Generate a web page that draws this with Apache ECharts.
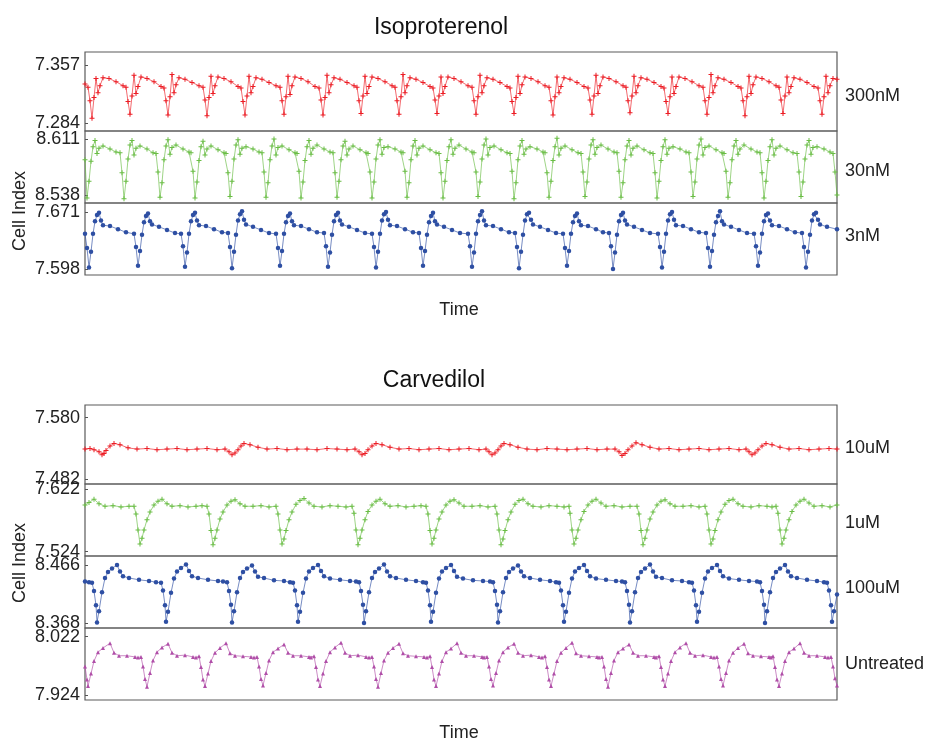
<!DOCTYPE html>
<html>
<head>
<meta charset="utf-8">
<script src="https://cdn.jsdelivr.net/npm/echarts@6/dist/echarts.min.js"></script>
<style>html,body{margin:0;padding:0;background:#fff}#c{width:929px;height:740px}</style>
</head>
<body>
<div id="c"></div>
<script>
// ---- data: [time, cell index] ----
const iso300 = [[0,7.333],[3,7.329],[5,7.312],[7,7.290],[9,7.316],[11,7.340],[13,7.322],[15,7.331],[18,7.341],[24,7.340],[31,7.336],[38,7.331],
[41,7.329],[43,7.311],[45,7.295],[47,7.318],[49,7.344],[51,7.321],[53,7.330],[56,7.342],[62,7.340],[69,7.336],[76,7.330],
[79,7.328],[81,7.312],[83,7.294],[85,7.317],[87,7.345],[89,7.322],[91,7.332],[94,7.341],[100,7.339],[107,7.335],[114,7.331],
[118,7.329],[120,7.313],[122,7.293],[124,7.316],[126,7.343],[128,7.321],[130,7.331],[133,7.342],[139,7.340],[146,7.336],[153,7.330],
[156,7.328],[158,7.311],[160,7.294],[162,7.318],[164,7.343],[166,7.322],[168,7.330],[171,7.341],[177,7.339],[184,7.335],[191,7.331],
[195,7.329],[197,7.312],[199,7.295],[201,7.317],[203,7.343],[205,7.320],[207,7.331],[210,7.342],[216,7.340],[223,7.336],[230,7.330],
[234,7.328],[236,7.313],[238,7.294],[240,7.316],[242,7.344],[244,7.322],[246,7.332],[249,7.341],[255,7.339],[262,7.335],[269,7.331],
[272,7.329],[274,7.312],[276,7.296],[278,7.318],[280,7.343],[282,7.321],[284,7.330],[287,7.342],[293,7.340],[300,7.336],[307,7.331],
[310,7.329],[312,7.312],[314,7.295],[316,7.317],[318,7.345],[320,7.322],[322,7.331],[325,7.341],[331,7.339],[338,7.335],[345,7.330],
[348,7.328],[350,7.313],[352,7.296],[354,7.318],[356,7.342],[358,7.321],[360,7.330],[363,7.342],[369,7.340],[376,7.336],[383,7.331],
[387,7.329],[389,7.312],[391,7.295],[393,7.317],[395,7.344],[397,7.322],[399,7.331],[402,7.341],[408,7.339],[415,7.335],[422,7.330],
[425,7.328],[427,7.311],[429,7.296],[431,7.316],[433,7.343],[435,7.321],[437,7.332],[440,7.342],[446,7.340],[453,7.336],[460,7.331],
[464,7.329],[466,7.312],[468,7.294],[470,7.317],[472,7.342],[474,7.322],[476,7.330],[479,7.341],[485,7.339],[492,7.335],[499,7.330],
[503,7.328],[505,7.313],[507,7.295],[509,7.318],[511,7.344],[513,7.321],[515,7.331],[518,7.342],[524,7.340],[531,7.336],[538,7.331],
[541,7.329],[543,7.312],[545,7.297],[547,7.318],[549,7.343],[551,7.322],[553,7.331],[556,7.341],[562,7.339],[569,7.335],[576,7.330],
[579,7.328],[581,7.311],[583,7.296],[585,7.317],[587,7.342],[589,7.321],[591,7.330],[594,7.342],[600,7.340],[607,7.336],[614,7.331],
[618,7.329],[620,7.312],[622,7.295],[624,7.316],[626,7.345],[628,7.322],[630,7.331],[633,7.341],[639,7.339],[646,7.335],[653,7.330],
[656,7.328],[658,7.312],[660,7.293],[662,7.317],[664,7.343],[666,7.321],[668,7.332],[671,7.342],[677,7.340],[684,7.336],[691,7.331],
[694,7.329],[696,7.313],[698,7.296],[700,7.318],[702,7.342],[704,7.322],[706,7.330],[709,7.341],[715,7.339],[722,7.335],[729,7.330],
[733,7.328],[735,7.312],[737,7.295],[739,7.317],[741,7.343],[743,7.322],[745,7.331],[748,7.340],[752,7.339]];

const iso30 = [[0,8.584],[2,8.534],[4,8.556],[6,8.582],[8,8.601],[10,8.609],[12,8.592],[14,8.599],[18,8.602],[25,8.598],[31,8.594],
[35,8.593],[37,8.567],[39,8.533],[41,8.556],[43,8.585],[45,8.603],[47,8.609],[49,8.590],[51,8.599],[55,8.602],[62,8.598],[68,8.593],
[71,8.592],[73,8.568],[75,8.535],[77,8.554],[79,8.584],[81,8.602],[83,8.610],[85,8.591],[87,8.600],[91,8.603],[98,8.598],[104,8.594],
[106,8.593],[108,8.569],[110,8.534],[112,8.555],[114,8.583],[116,8.601],[118,8.608],[120,8.590],[122,8.598],[126,8.602],[133,8.597],[139,8.593],
[141,8.592],[143,8.567],[145,8.536],[147,8.556],[149,8.585],[151,8.603],[153,8.610],[155,8.591],[157,8.599],[161,8.601],[168,8.598],[174,8.594],
[177,8.593],[179,8.568],[181,8.535],[183,8.554],[185,8.584],[187,8.602],[189,8.611],[191,8.590],[193,8.600],[197,8.602],[204,8.597],[210,8.593],
[212,8.592],[214,8.569],[216,8.534],[218,8.555],[220,8.583],[222,8.601],[224,8.609],[226,8.591],[228,8.599],[232,8.603],[239,8.598],[245,8.594],
[248,8.593],[250,8.567],[252,8.535],[254,8.556],[256,8.584],[258,8.602],[260,8.608],[262,8.590],[264,8.598],[268,8.602],[275,8.597],[281,8.593],
[283,8.592],[285,8.568],[287,8.534],[289,8.555],[291,8.585],[293,8.603],[295,8.610],[297,8.591],[299,8.600],[303,8.601],[310,8.598],[316,8.594],
[318,8.593],[320,8.569],[322,8.535],[324,8.554],[326,8.584],[328,8.602],[330,8.609],[332,8.590],[334,8.599],[338,8.602],[345,8.597],[351,8.593],
[354,8.592],[356,8.567],[358,8.534],[360,8.556],[362,8.583],[364,8.601],[366,8.610],[368,8.591],[370,8.599],[374,8.603],[381,8.598],[387,8.594],
[389,8.593],[391,8.568],[393,8.536],[395,8.555],[397,8.585],[399,8.603],[401,8.611],[403,8.590],[405,8.600],[409,8.602],[416,8.597],[422,8.593],
[425,8.592],[427,8.569],[429,8.533],[431,8.554],[433,8.584],[435,8.602],[437,8.609],[439,8.591],[441,8.598],[445,8.601],[452,8.598],[458,8.594],
[460,8.593],[462,8.567],[464,8.535],[466,8.556],[468,8.583],[470,8.601],[472,8.612],[474,8.590],[476,8.599],[480,8.602],[487,8.597],[493,8.593],
[496,8.592],[498,8.568],[500,8.536],[502,8.555],[504,8.585],[506,8.603],[508,8.610],[510,8.591],[512,8.600],[516,8.603],[523,8.598],[529,8.594],
[532,8.593],[534,8.569],[536,8.535],[538,8.554],[540,8.584],[542,8.602],[544,8.609],[546,8.590],[548,8.599],[552,8.602],[559,8.597],[565,8.593],
[568,8.592],[570,8.567],[572,8.534],[574,8.556],[576,8.583],[578,8.601],[580,8.610],[582,8.591],[584,8.599],[588,8.601],[595,8.598],[601,8.594],
[604,8.593],[606,8.568],[608,8.536],[610,8.555],[612,8.585],[614,8.603],[616,8.611],[618,8.590],[620,8.600],[624,8.602],[631,8.597],[637,8.593],
[639,8.592],[641,8.569],[643,8.535],[645,8.554],[647,8.584],[649,8.602],[651,8.609],[653,8.591],[655,8.598],[659,8.603],[666,8.598],[672,8.594],
[675,8.593],[677,8.567],[679,8.534],[681,8.556],[683,8.583],[685,8.601],[687,8.610],[689,8.590],[691,8.599],[695,8.602],[702,8.597],[708,8.593],
[712,8.592],[714,8.568],[716,8.536],[718,8.555],[720,8.585],[722,8.603],[724,8.609],[726,8.591],[728,8.600],[732,8.601],[739,8.598],[745,8.594],
[748,8.592],[750,8.568],[752,8.538]];

const iso3 = [[0,7.643],[2,7.625],[4,7.600],[6,7.620],[8,7.643],[10,7.659],[12,7.667],[14,7.670],[16,7.660],[18,7.654],[25,7.653],[33,7.649],[41,7.645],
[49,7.643],[51,7.626],[53,7.602],[55,7.621],[57,7.642],[59,7.658],[61,7.666],[63,7.669],[65,7.659],[67,7.655],[74,7.652],[82,7.648],[90,7.644],
[96,7.643],[98,7.627],[100,7.601],[102,7.619],[104,7.643],[106,7.659],[108,7.667],[110,7.670],[112,7.660],[114,7.654],[121,7.653],[129,7.649],[137,7.645],
[143,7.644],[145,7.626],[147,7.599],[149,7.620],[151,7.642],[153,7.660],[155,7.668],[157,7.672],[159,7.661],[161,7.655],[168,7.652],[176,7.648],[184,7.644],
[191,7.643],[193,7.625],[195,7.602],[197,7.621],[199,7.643],[201,7.658],[203,7.666],[205,7.669],[207,7.659],[209,7.654],[216,7.653],[224,7.649],[232,7.645],
[239,7.644],[241,7.627],[243,7.601],[245,7.619],[247,7.642],[249,7.659],[251,7.667],[253,7.670],[255,7.660],[257,7.655],[264,7.652],[272,7.648],[280,7.644],
[287,7.643],[289,7.626],[291,7.600],[293,7.620],[295,7.643],[297,7.660],[299,7.668],[301,7.671],[303,7.661],[305,7.654],[312,7.653],[320,7.649],[328,7.645],
[334,7.644],[336,7.625],[338,7.602],[340,7.621],[342,7.642],[344,7.658],[346,7.666],[348,7.670],[350,7.659],[352,7.655],[359,7.652],[367,7.648],[375,7.644],
[383,7.643],[385,7.627],[387,7.601],[389,7.619],[391,7.643],[393,7.659],[395,7.667],[397,7.672],[399,7.660],[401,7.654],[408,7.653],[416,7.649],[424,7.645],
[430,7.644],[432,7.626],[434,7.599],[436,7.620],[438,7.642],[440,7.660],[442,7.668],[444,7.670],[446,7.661],[448,7.655],[455,7.652],[463,7.648],[471,7.644],
[478,7.643],[480,7.625],[482,7.602],[484,7.621],[486,7.643],[488,7.658],[490,7.666],[492,7.669],[494,7.659],[496,7.654],[503,7.653],[511,7.649],[518,7.645],
[524,7.644],[526,7.627],[528,7.598],[530,7.619],[532,7.642],[534,7.659],[536,7.667],[538,7.670],[540,7.660],[542,7.655],[549,7.652],[557,7.648],[565,7.644],
[573,7.643],[575,7.626],[577,7.600],[579,7.620],[581,7.643],[583,7.660],[585,7.668],[587,7.671],[589,7.661],[591,7.654],[598,7.653],[606,7.649],[614,7.645],
[621,7.644],[623,7.625],[625,7.601],[627,7.621],[629,7.642],[631,7.658],[633,7.666],[635,7.672],[637,7.659],[639,7.655],[646,7.652],[654,7.648],[662,7.644],
[669,7.643],[671,7.627],[673,7.602],[675,7.619],[677,7.643],[679,7.659],[681,7.667],[683,7.669],[685,7.660],[687,7.654],[694,7.653],[702,7.649],[710,7.645],
[717,7.644],[719,7.626],[721,7.600],[723,7.620],[725,7.642],[727,7.660],[729,7.668],[731,7.670],[733,7.661],[735,7.655],[742,7.652],[752,7.649]];

const carv10 = [[0,7.530],[5,7.531],[9,7.529],[14,7.526],[17,7.521],[19,7.523],[21,7.528],[25,7.535],[29,7.539],[35,7.537],[43,7.532],[52,7.530],[62,7.531],[72,7.529],[82,7.530],[92,7.531],[102,7.529],[112,7.530],[122,7.531],[132,7.529],[140,7.530],
[144,7.526],[147,7.521],[150,7.524],[153,7.529],[156,7.535],[159,7.539],[165,7.537],[173,7.533],[182,7.530],[192,7.531],[202,7.529],[212,7.530],[222,7.530],[232,7.529],[242,7.531],[252,7.530],[262,7.529],[270,7.530],
[274,7.526],[277,7.521],[280,7.523],[283,7.529],[287,7.535],[291,7.539],[297,7.537],[305,7.533],[314,7.530],[324,7.531],[334,7.529],[344,7.530],[354,7.531],[364,7.529],[374,7.530],[384,7.531],[394,7.529],[401,7.530],
[404,7.526],[407,7.521],[410,7.524],[413,7.529],[416,7.535],[419,7.539],[425,7.537],[433,7.533],[442,7.530],[452,7.529],[462,7.531],[472,7.530],[482,7.529],[492,7.530],[502,7.531],[512,7.529],[522,7.530],[530,7.530],
[534,7.526],[537,7.520],[540,7.523],[543,7.529],[547,7.535],[551,7.540],[557,7.537],[565,7.533],[574,7.530],[584,7.531],[594,7.529],[604,7.530],[614,7.531],[624,7.529],[634,7.530],[644,7.531],[654,7.529],[661,7.530],
[664,7.526],[667,7.521],[670,7.524],[673,7.529],[677,7.535],[681,7.539],[687,7.537],[695,7.533],[704,7.530],[714,7.531],[724,7.529],[734,7.530],[744,7.531],[752,7.530]];

const carv1 = [[0,7.597],[4,7.601],[9,7.606],[14,7.599],[20,7.595],[28,7.596],[36,7.594],[44,7.595],[49,7.595],
[51,7.583],[53,7.558],[55,7.536],[57,7.545],[59,7.558],[62,7.574],[65,7.586],[69,7.597],[73,7.603],[77,7.606],[82,7.599],[87,7.595],[95,7.596],[103,7.594],[111,7.595],[117,7.596],[122,7.595],
[124,7.583],[126,7.557],[128,7.535],[130,7.545],[132,7.558],[135,7.575],[138,7.586],[142,7.597],[146,7.603],[150,7.605],[155,7.599],[160,7.595],[168,7.595],[176,7.596],[184,7.594],[191,7.595],
[193,7.583],[195,7.558],[197,7.536],[199,7.544],[201,7.557],[204,7.574],[207,7.586],[211,7.598],[215,7.604],[219,7.607],[224,7.600],[229,7.595],[237,7.594],[245,7.596],[253,7.595],[261,7.594],[267,7.595],
[269,7.584],[271,7.558],[273,7.535],[275,7.545],[277,7.558],[280,7.574],[283,7.587],[287,7.597],[291,7.603],[295,7.606],[300,7.599],[305,7.595],[313,7.596],[321,7.594],[329,7.595],[336,7.596],[341,7.595],
[343,7.583],[345,7.557],[347,7.536],[349,7.545],[351,7.558],[354,7.575],[357,7.586],[361,7.597],[365,7.603],[369,7.605],[374,7.600],[379,7.595],[387,7.595],[395,7.596],[403,7.594],[410,7.595],
[412,7.583],[414,7.558],[416,7.535],[418,7.544],[420,7.557],[423,7.574],[426,7.586],[430,7.598],[434,7.604],[438,7.606],[443,7.599],[448,7.595],[456,7.594],[464,7.596],[472,7.595],[479,7.594],[484,7.595],
[485,7.584],[487,7.558],[489,7.536],[491,7.545],[493,7.558],[496,7.574],[499,7.587],[503,7.597],[507,7.603],[511,7.606],[516,7.600],[521,7.595],[529,7.596],[537,7.594],[545,7.595],[552,7.595],
[554,7.583],[556,7.557],[558,7.535],[560,7.545],[562,7.558],[565,7.575],[568,7.586],[572,7.597],[576,7.603],[580,7.605],[585,7.599],[590,7.595],[598,7.595],[606,7.596],[614,7.594],[620,7.595],
[622,7.583],[624,7.558],[626,7.536],[628,7.544],[630,7.557],[633,7.574],[636,7.586],[640,7.598],[644,7.604],[648,7.606],[653,7.599],[658,7.595],[666,7.594],[674,7.596],[682,7.595],[687,7.594],[691,7.595],
[693,7.584],[695,7.558],[697,7.536],[699,7.545],[701,7.558],[704,7.574],[707,7.587],[711,7.597],[715,7.603],[719,7.606],[724,7.600],[729,7.595],[737,7.596],[745,7.594],[752,7.597]];

const carv100 = [[0,8.438],[4,8.437],
[7,8.436],[9,8.422],[11,8.398],[12,8.369],[14,8.388],[17,8.420],[20,8.444],[23,8.454],[27,8.460],[32,8.466],[35,8.455],[38,8.447],[44,8.444],[54,8.441],[64,8.439],[71,8.437],
[76,8.436],[78,8.423],[80,8.398],[81,8.370],[83,8.387],[86,8.419],[89,8.443],[92,8.455],[96,8.461],[101,8.467],[104,8.456],[107,8.447],[113,8.444],[123,8.441],[133,8.439],[138,8.438],
[142,8.437],[144,8.422],[146,8.399],[147,8.369],[149,8.388],[152,8.420],[155,8.444],[158,8.454],[162,8.460],[167,8.465],[170,8.455],[173,8.446],[179,8.444],[189,8.440],[199,8.439],[205,8.437],
[208,8.436],[210,8.423],[212,8.398],[213,8.370],[215,8.387],[218,8.419],[221,8.443],[224,8.455],[228,8.461],[233,8.466],[236,8.456],[239,8.447],[245,8.443],[255,8.441],[265,8.439],[271,8.438],
[274,8.437],[276,8.422],[278,8.399],[279,8.368],[281,8.388],[284,8.420],[287,8.444],[290,8.454],[294,8.460],[299,8.467],[302,8.455],[305,8.447],[311,8.444],[321,8.441],[331,8.439],[338,8.437],
[341,8.436],[343,8.423],[345,8.398],[346,8.370],[348,8.387],[351,8.419],[354,8.443],[357,8.455],[361,8.461],[366,8.466],[369,8.456],[372,8.446],[378,8.443],[388,8.440],[398,8.439],[405,8.438],
[408,8.437],[410,8.422],[412,8.399],[413,8.369],[415,8.388],[418,8.420],[421,8.444],[424,8.454],[428,8.460],[433,8.465],[436,8.455],[439,8.447],[445,8.444],[455,8.441],[465,8.439],[471,8.437],
[474,8.436],[476,8.423],[478,8.398],[479,8.370],[481,8.387],[484,8.419],[487,8.443],[490,8.455],[494,8.461],[499,8.466],[502,8.456],[505,8.447],[511,8.443],[521,8.441],[531,8.439],[537,8.438],
[540,8.437],[542,8.422],[544,8.399],[545,8.369],[547,8.388],[550,8.420],[553,8.444],[556,8.454],[560,8.460],[565,8.467],[568,8.455],[571,8.446],[577,8.444],[587,8.440],[597,8.439],[604,8.437],
[607,8.436],[609,8.423],[611,8.398],[612,8.370],[614,8.387],[617,8.419],[620,8.443],[623,8.455],[627,8.461],[632,8.466],[635,8.456],[638,8.447],[644,8.443],[654,8.441],[664,8.439],[672,8.438],
[675,8.437],[677,8.422],[679,8.399],[680,8.368],[682,8.388],[685,8.420],[688,8.444],[691,8.454],[695,8.460],[700,8.466],[703,8.455],[706,8.447],[712,8.444],[722,8.441],[732,8.439],[739,8.437],
[742,8.436],[744,8.423],[746,8.398],[747,8.370],[749,8.388],[752,8.416]];

const untreated = [[0,7.972],[2,7.950],
[3,7.939],[6,7.960],[9,7.981],[13,7.996],[18,8.003],[25,8.011],[29,7.995],[34,7.990],[42,7.990],[50,7.988],[53,7.987],
[56,7.988],[58,7.972],[60,7.951],[62,7.938],[65,7.961],[68,7.982],[72,7.996],[77,8.004],[83,8.010],[87,7.995],[92,7.990],[100,7.991],[108,7.988],[111,7.987],
[114,7.989],[116,7.971],[118,7.950],[120,7.939],[123,7.960],[126,7.981],[130,7.995],[135,8.003],[141,8.011],[145,7.994],[150,7.990],[158,7.989],[166,7.988],[169,7.987],
[172,7.988],[174,7.972],[176,7.951],[178,7.940],[181,7.961],[184,7.982],[188,7.996],[193,8.002],[199,8.009],[203,7.995],[208,7.990],[216,7.990],[224,7.988],[226,7.987],
[229,7.989],[231,7.971],[233,7.950],[235,7.939],[238,7.960],[241,7.981],[245,7.996],[250,8.004],[256,8.012],[260,7.995],[265,7.990],[273,7.991],[281,7.988],[284,7.987],
[287,7.988],[289,7.972],[291,7.951],[293,7.938],[296,7.961],[299,7.982],[303,7.995],[308,8.003],[314,8.010],[318,7.994],[323,7.990],[331,7.989],[339,7.988],[342,7.987],
[345,7.989],[347,7.971],[349,7.950],[351,7.939],[354,7.960],[357,7.981],[361,7.996],[366,8.002],[372,8.011],[376,7.995],[381,7.990],[389,7.990],[397,7.988],[399,7.987],
[402,7.988],[404,7.972],[406,7.951],[408,7.940],[411,7.961],[414,7.982],[418,7.996],[423,8.004],[429,8.010],[433,7.995],[438,7.990],[446,7.991],[454,7.988],[457,7.987],
[460,7.989],[462,7.971],[464,7.950],[466,7.939],[469,7.960],[472,7.981],[476,7.995],[481,8.003],[487,8.012],[491,7.994],[496,7.990],[504,7.989],[512,7.988],[514,7.987],
[517,7.988],[519,7.972],[521,7.951],[523,7.938],[526,7.961],[529,7.982],[533,7.996],[538,8.002],[544,8.009],[548,7.995],[553,7.990],[561,7.990],[569,7.988],[571,7.987],
[574,7.989],[576,7.971],[578,7.950],[580,7.939],[583,7.960],[586,7.981],[590,7.996],[595,8.004],[601,8.011],[605,7.995],[610,7.990],[618,7.991],[626,7.988],[629,7.987],
[632,7.988],[634,7.972],[636,7.951],[638,7.940],[641,7.961],[644,7.982],[648,7.995],[653,8.003],[659,8.010],[663,7.994],[668,7.990],[676,7.989],[684,7.988],[686,7.987],
[688,7.989],[690,7.971],[692,7.950],[694,7.939],[697,7.960],[700,7.981],[704,7.996],[709,8.002],[715,8.011],[719,7.995],[724,7.990],[732,7.990],[740,7.988],[743,7.987],
[746,7.988],[748,7.972],[750,7.952],[752,7.940]];

// tick labels per panel
const ticks300 = [7.284, 7.357];
const ticks30 = [8.538, 8.611];
const ticks3 = [7.598, 7.671];
const ticks10u = [7.482, 7.580];
const ticks1u = [7.524, 7.622];
const ticks100u = [8.368, 8.466];
const ticksUnt = [7.924, 8.022];

const labels = ['300nM','30nM','3nM','10uM','1uM','100uM','Untreated'];
const titles = ['Isoproterenol','Carvedilol'];
const xTitle = 'Time';
const yTitle = 'Cell Index';

// ---- layout / styles ----
const FONT = '"Liberation Sans", Arial, Helvetica, sans-serif';
const crossPath = 'path://M0,4H10V6H0ZM4,0H6V10H4Z';
const panels = [
  {data: iso300, ticks: ticks300, top: 52, h: 79, min: 7.2739, max: 7.3734, color: '#ec1c24', symbol: crossPath, size: 5, ly: 96},
  {data: iso30, ticks: ticks30, top: 131, h: 72, min: 8.5276, max: 8.6214, color: '#6abd45', symbol: crossPath, size: 5, ly: 171},
  {data: iso3, ticks: ticks3, top: 203, h: 72, min: 7.5903, max: 7.6825, color: '#2e4fa3', symbol: 'circle', size: 4.5, ly: 236},
  {data: carv10, ticks: ticks10u, top: 405, h: 79, min: 7.4745, max: 7.6002, color: '#ec1c24', symbol: crossPath, size: 5, ly: 448},
  {data: carv1, ticks: ticks1u, top: 484, h: 72, min: 7.5173, max: 7.6298, color: '#6abd45', symbol: crossPath, size: 5, ly: 523},
  {data: carv100, ticks: ticks100u, top: 556, h: 72, min: 8.3595, max: 8.4812, color: '#2e4fa3', symbol: 'circle', size: 4.5, ly: 588},
  {data: untreated, ticks: ticksUnt, top: 628, h: 72, min: 7.9156, max: 8.0366, color: '#b04ea8', symbol: 'triangle', size: 4, ly: 664}
];

const grid = [], xAxis = [], yAxis = [], series = [], graphic = [];
panels.forEach((p, i) => {
  grid.push({left: 85, width: 752, top: p.top, height: p.h, show: true, borderColor: '#5a5a5a', borderWidth: 1.2, backgroundColor: 'transparent'});
  xAxis.push({type: 'value', gridIndex: i, min: 0, max: 752, show: false});
  yAxis.push({
    type: 'value', gridIndex: i, min: p.min, max: p.max,
    axisLine: {show: false}, splitLine: {show: false},
    axisTick: {show: true, inside: true, length: 3, customValues: p.ticks, lineStyle: {color: '#555'}},
    axisLabel: {show: true, customValues: p.ticks, formatter: v => v.toFixed(3), fontSize: 18, color: '#222', fontFamily: FONT, margin: 5}
  });
  series.push({
    type: 'line', xAxisIndex: i, yAxisIndex: i, data: p.data,
    symbol: p.symbol, symbolSize: p.size, showSymbol: true, showAllSymbol: true,
    itemStyle: {color: p.color}, lineStyle: {color: p.color, width: 1, opacity: 0.65},
    animation: false, silent: true
  });
  graphic.push({type: 'text', x: 845, y: p.ly, style: {text: labels[i], font: '18px ' + FONT, fill: '#222', align: 'left', verticalAlign: 'middle'}});
});

graphic.push({type: 'text', x: 441, y: 28, style: {text: titles[0], font: '23px ' + FONT, fill: '#111', align: 'center', verticalAlign: 'middle'}});
graphic.push({type: 'text', x: 434, y: 381, style: {text: titles[1], font: '23px ' + FONT, fill: '#111', align: 'center', verticalAlign: 'middle'}});
graphic.push({type: 'text', x: 459, y: 310, style: {text: xTitle, font: '18px ' + FONT, fill: '#222', align: 'center', verticalAlign: 'middle'}});
graphic.push({type: 'text', x: 459, y: 733, style: {text: xTitle, font: '18px ' + FONT, fill: '#222', align: 'center', verticalAlign: 'middle'}});
graphic.push({type: 'text', x: 20, y: 211, rotation: Math.PI / 2, style: {text: yTitle, font: '18px ' + FONT, fill: '#222', align: 'center', verticalAlign: 'middle'}});
graphic.push({type: 'text', x: 20, y: 563, rotation: Math.PI / 2, style: {text: yTitle, font: '18px ' + FONT, fill: '#222', align: 'center', verticalAlign: 'middle'}});

const chart = echarts.init(document.getElementById('c'), null, {renderer: 'canvas'});
chart.setOption({backgroundColor: '#fff', animation: false, grid, xAxis, yAxis, series, graphic});
</script>
</body>
</html>
